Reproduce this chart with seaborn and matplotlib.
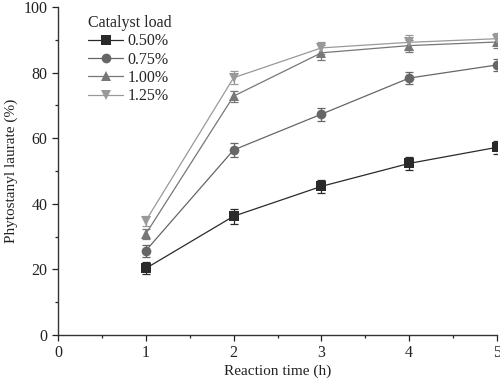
import matplotlib
matplotlib.use("Agg")
import matplotlib.pyplot as plt
import seaborn as sns
import pandas as pd
from matplotlib.ticker import MultipleLocator

time_h = [1, 2, 3, 4, 5]
loads = ["0.50%", "0.75%", "1.00%", "1.25%"]
y_050 = [20.3, 36.2, 45.3, 52.3, 57.2]
y_075 = [25.7, 56.4, 67.3, 78.3, 82.3]
y_100 = [30.8, 72.8, 86.0, 88.2, 89.3]
y_125 = [34.8, 78.4, 87.5, 89.2, 90.3]
e_050 = [1.8, 2.3, 2.0, 2.0, 2.0]
e_075 = [1.8, 2.0, 2.0, 1.8, 1.7]
e_100 = [1.5, 1.7, 2.3, 1.8, 1.8]
e_125 = [1.5, 2.0, 1.8, 2.2, 1.8]

series = [y_050, y_075, y_100, y_125]
errs = [e_050, e_075, e_100, e_125]
colors = ["#2a2a2a", "#666666", "#777777", "#999999"]
markers = ["s", "o", "^", "v"]

rows = []
for lab, ys in zip(loads, series):
    for t, v in zip(time_h, ys):
        rows.append({"time": t, "value": v, "load": lab})
df = pd.DataFrame(rows)

sns.set_style("ticks")
plt.rcParams["font.family"] = ["Liberation Serif", "DejaVu Serif"]

fig = plt.figure(figsize=(5.0, 3.82), dpi=100)
ax = fig.add_axes([0.116, 0.123, 0.878, 0.859])

for lab, ys, es, c in zip(loads, series, errs, colors):
    ax.errorbar(time_h, ys, yerr=es, fmt="none", ecolor=c, elinewidth=0.9,
                capsize=3, capthick=0.9, zorder=2)

sns.lineplot(data=df, x="time", y="value", hue="load", style="load",
             palette=dict(zip(loads, colors)), markers=dict(zip(loads, markers)),
             dashes=False, markersize=7, markeredgewidth=0, linewidth=0.9,
             ax=ax, zorder=3)

ax.set_xlim(0, 5)
ax.set_ylim(0, 100)
ax.xaxis.set_major_locator(MultipleLocator(1))
ax.xaxis.set_minor_locator(MultipleLocator(0.5))
ax.yaxis.set_major_locator(MultipleLocator(20))
ax.yaxis.set_minor_locator(MultipleLocator(10))
ax.tick_params(which="major", length=4, width=0.9, labelsize=11.5, colors="#222222")
ax.tick_params(axis="x", which="major", pad=3)
ax.tick_params(which="minor", length=2.5, width=0.9)
for s in ["left", "bottom"]:
    ax.spines[s].set_linewidth(1.0)
    ax.spines[s].set_color("#333333")
sns.despine(ax=ax)

ax.set_xlabel("Reaction time (h)", fontsize=11, color="#222222", labelpad=3)
ax.set_ylabel("Phytostanyl laurate (%)", fontsize=11, color="#222222", labelpad=4)

leg = ax.legend(title="Catalyst load", loc="upper left", bbox_to_anchor=(0.05, 1.0),
                frameon=False, fontsize=11.5, title_fontsize=11.5, handlelength=2.2,
                handletextpad=0.3, labelspacing=0.15, borderaxespad=0.1)
leg._legend_box.align = "left"

fig.savefig("out.png", dpi=100)
